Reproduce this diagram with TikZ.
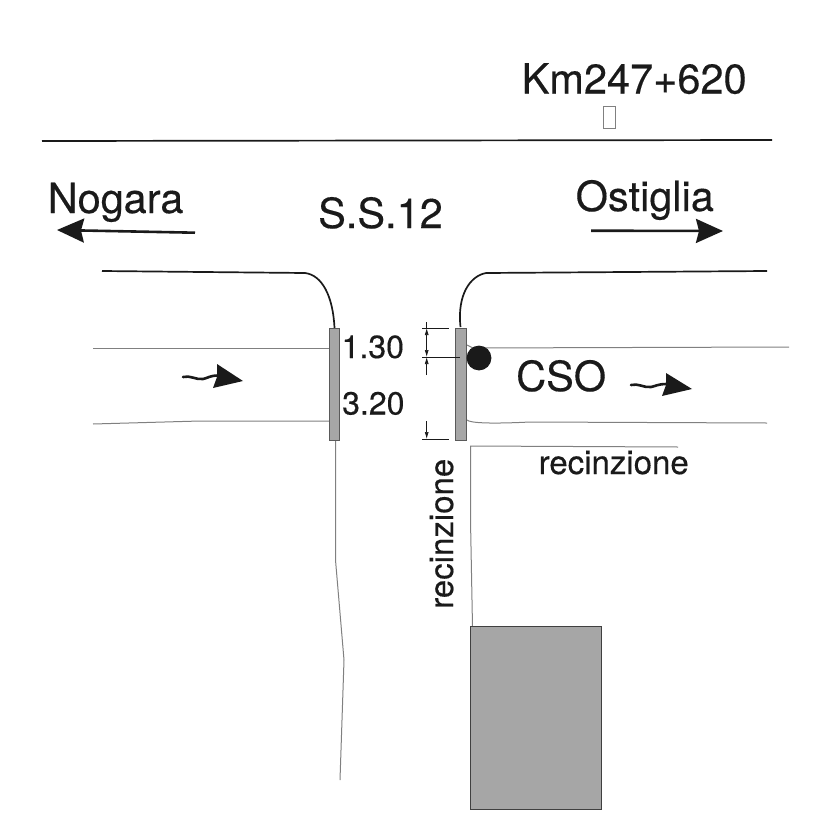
\documentclass[tikz,border=0pt]{standalone}
\usepackage{fontspec}
\setmainfont[FakeBold=0.3]{TeX Gyre Heros}
\usetikzlibrary{arrows.meta}
\definecolor{roadgray}{HTML}{A6A6A6}
\definecolor{ink}{HTML}{1A1A1A}
\definecolor{thin}{HTML}{808080}
\tikzset{
  biglabel/.style={inner sep=0pt,anchor=base west,text=ink,font=\fontsize{41.5}{41.5}\selectfont},
  dimlabel/.style={inner sep=0pt,anchor=base west,text=ink,font=\fontsize{32}{32}\selectfont},
  fencelabel/.style={inner sep=0pt,anchor=base west,text=ink,font=\fontsize{33}{33}\selectfont},
  roadedge/.style={draw=ink,line width=1.7pt},
  thinline/.style={draw=thin,line width=1pt},
  dimline/.style={draw=ink,line width=0.7pt},
  bigarrow/.style={draw=ink,line width=2.6pt,-{Stealth[length=27pt,width=24pt,inset=3pt]}},
  curly/.style={draw=ink,line width=2.6pt,line cap=round},
  barshape/.style={fill=roadgray,draw=thin!70!black,line width=1pt}
}
\begin{document}
\begin{tikzpicture}[x=1pt,y=-1pt]
\useasboundingbox (0,0) rectangle (827,827);
% title
\node[biglabel] (km) at (521.5,93.5) {Km247+620};
\draw[draw=gray,line width=1pt] (603.5,106) rectangle (615.5,128);
\draw[draw=ink,line width=1.7pt] (42,141) -- (772,140);
% direction labels
\node[biglabel] (nog) at (47.5,213) {Nogara};
\node[biglabel] (ss) at (318,228) {S.S.12};
\node[biglabel] (ost) at (575.5,211) {Ostiglia};
\coordinate (nogA) at (195,232.7);
\coordinate (nogB) at (57,230);
\coordinate (ostA) at (591,230.7);
\coordinate (ostB) at (723,231);
\draw[bigarrow] (nogA) -- (nogB);
\draw[bigarrow] (ostA) -- (ostB);
% road edges
\draw[roadedge] (102,271) -- (305,273) .. controls (322,275) and (333,296) .. (334.5,328);
\draw[roadedge] (767,271) -- (486,273) .. controls (470,276) and (457,295) .. (460.5,327);
% channel lines
\draw[thinline] (93,348) -- (329,348);
\draw[thinline] (93,424) -- (200,421) -- (329,421);
\draw[thinline] (467,345) -- (473,348) -- (789,347);
\draw[thinline] (467,420) .. controls (470,423) and (490,424) .. (530,422) -- (767,423);
\draw[thinline] (335.5,441) -- (335.5,560) -- (344,660) -- (340,780);
\draw[thinline] (678,447) -- (470.5,446) -- (470.5,520) -- (472.5,627);
% bars
\draw[barshape] (329,328) rectangle (339.5,440.5);
\draw[barshape] (455.7,328) rectangle (466.3,440.5);
% dot
\fill[ink] (479,358) circle (12.4);
% dimensions
\draw[dimline] (422,328) -- (449,328);
\draw[dimline] (422,357) -- (460,357);
\draw[dimline] (422,439) -- (449,439);
\draw[dimline] (426.7,322) -- (426.7,328);
\draw[dimline,{Latex[length=7pt,width=4pt]}-{Latex[length=7pt,width=4pt]}] (426.7,328) -- (426.7,357);
\draw[dimline,-{Latex[length=7pt,width=4pt]}] (426.7,375) -- (426.7,357);
\draw[dimline,-{Latex[length=7pt,width=4pt]}] (426.7,421) -- (426.7,439);
\node[dimlabel] (d1) at (341.5,358) {1.30};
\node[dimlabel] (d2) at (342,414.5) {3.20};
\node[biglabel] (cso) at (516,391) {CSO};
\node[fencelabel] (r1) at (538.5,474) {recinzione};
\node[fencelabel,rotate=90] (r2) at (453,609) {recinzione};
% flow arrows
\draw[curly] (183,377) .. controls (190,375) and (196,380) .. (203,379) .. controls (208,378) and (210,375.5) .. (218,375.5);
\fill[ink] (217,364) -- (243,381) -- (213,388) -- (217,377) -- cycle;
\draw[curly] (631,385) .. controls (638,383) and (644,388) .. (651,387) .. controls (656,386) and (658,384) .. (667,384);
\fill[ink] (666,373) -- (692,389) -- (662,396) -- (666,385) -- cycle;
% building
\fill[roadgray] (470,626) rectangle (601,809);
\draw[draw=black!75,line width=1pt] (470,626) rectangle (601,809);
\end{tikzpicture}
\end{document}
